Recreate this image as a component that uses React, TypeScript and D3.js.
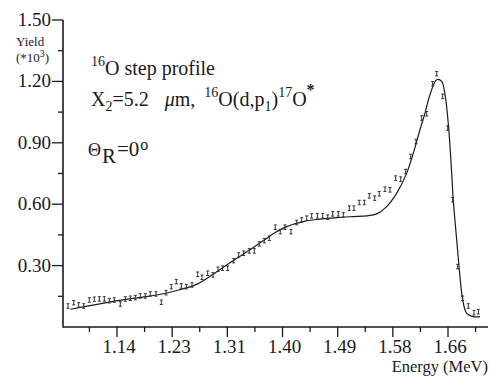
import React from "react";
import * as d3 from "d3";

// ---- data ----
const fitE = [1.0664, 1.1321, 1.211, 1.2373, 1.2635, 1.2846, 1.3056, 1.3266, 1.3477, 1.3687, 1.3896, 1.4076, 1.4338, 1.4601, 1.4865, 1.5126, 1.5338, 1.5495, 1.5653, 1.5811, 1.5969, 1.6073, 1.6178, 1.6257, 1.6336, 1.6442, 1.652, 1.6573, 1.6625, 1.6678, 1.6703, 1.6757, 1.6809, 1.6852, 1.6915, 1.7019, 1.7124];
const fitY = [0.0866, 0.1238, 0.1614, 0.181, 0.206, 0.243, 0.2872, 0.3312, 0.3733, 0.4173, 0.4613, 0.4907, 0.5151, 0.5269, 0.5347, 0.5396, 0.543, 0.5528, 0.5885, 0.654, 0.7519, 0.8497, 0.9637, 1.0454, 1.135, 1.2083, 1.2, 1.135, 0.993, 0.7519, 0.6213, 0.4256, 0.2461, 0.1321, 0.067, 0.0504, 0.0504];

const dataE = [1.0627, 1.0717, 1.0796, 1.0875, 1.0963, 1.1042, 1.1121, 1.12, 1.1279, 1.1357, 1.1452, 1.1531, 1.161, 1.1689, 1.1767, 1.1846, 1.1925, 1.2015, 1.2099, 1.2173, 1.2256, 1.2335, 1.2414, 1.2493, 1.2583, 1.2673, 1.274, 1.283, 1.2914, 1.2993, 1.3067, 1.3146, 1.324, 1.3319, 1.3398, 1.3486, 1.3565, 1.3644, 1.3723, 1.3802, 1.3896, 1.3975, 1.4049, 1.4144, 1.4234, 1.4313, 1.4392, 1.447, 1.4559, 1.4644, 1.4723, 1.4802, 1.489, 1.4969, 1.5063, 1.5137, 1.5221, 1.53, 1.5379, 1.5464, 1.5536, 1.5626, 1.5705, 1.5795, 1.5874, 1.5953, 1.6032, 1.6115, 1.6205, 1.6284, 1.6378, 1.6442, 1.6536, 1.6615, 1.6694, 1.6773, 1.6852, 1.694, 1.703, 1.7098];
const dataY = [0.1027, 0.1189, 0.1076, 0.1027, 0.1321, 0.1355, 0.137, 0.137, 0.1287, 0.1321, 0.1125, 0.137, 0.1404, 0.1433, 0.1517, 0.1517, 0.1614, 0.1614, 0.1208, 0.1678, 0.1971, 0.2216, 0.2006, 0.1971, 0.2055, 0.2578, 0.2431, 0.2627, 0.2544, 0.2823, 0.2872, 0.2872, 0.3243, 0.3522, 0.3605, 0.3718, 0.3718, 0.406, 0.4222, 0.4339, 0.4877, 0.4662, 0.4877, 0.4662, 0.5102, 0.5234, 0.5318, 0.543, 0.543, 0.543, 0.5366, 0.5528, 0.5528, 0.5479, 0.5807, 0.5807, 0.6081, 0.6081, 0.6409, 0.6296, 0.6506, 0.6736, 0.6702, 0.7274, 0.7226, 0.7597, 0.8331, 0.9065, 1.021, 1.042, 1.1888, 1.2377, 1.1266, 0.972, 0.6213, 0.295, 0.1404, 0.1027, 0.07, 0.0748];
const dataErr = 0.011;

const xTickValues = [1.14, 1.227, 1.314, 1.401, 1.488, 1.575, 1.662];
const xTickLabels = ["1.14", "1.23", "1.31", "1.40", "1.49", "1.58", "1.66"];
const yTickValues = [0.3, 0.6, 0.9, 1.2, 1.5];
const yTickLabels = ["0.30", "0.60", "0.90", "1.20", "1.50"];
const yMinorValues = [0.15, 0.45, 0.75, 1.05, 1.35];

const SERIF = "Liberation Serif, Times New Roman, DejaVu Serif, serif";

export default function App() {
  const x = d3.scaleLinear().domain([1.14, 1.662]).range([117, 448]);
  const y = d3.scaleLinear().domain([0, 1.5]).range([327, 20]);
  const ink = "#1a1a1a";

  const line = d3
    .line<number>()
    .x((_, i) => x(fitE[i]))
    .y((d) => y(d))
    .curve(d3.curveCatmullRom.alpha(0.5));

  const step = xTickValues[1] - xTickValues[0];
  const xMinor = [xTickValues[0] - step / 2, ...xTickValues.map((v) => v + step / 2)];
  const xEnd = 488;

  return (
    <svg
      width={490}
      height={376}
      fontFamily={SERIF}
      style={{ position: "absolute", left: 0, top: 0, background: "#fff" }}
    >
      {/* axes */}
      <line x1={63} x2={63} y1={y(1.5)} y2={y(0) + 0.5} stroke={ink} strokeWidth={1.6} />
      <line x1={63} x2={xEnd} y1={y(0)} y2={y(0)} stroke={ink} strokeWidth={1.4} />
      {yTickValues.map((v, i) => (
        <g key={"yt" + i}>
          <line x1={52} x2={63} y1={y(v)} y2={y(v)} stroke={ink} strokeWidth={1.3} />
          <text x={51} y={y(v) + 6} textAnchor="end" fontSize={19} fill={ink}>
            {yTickLabels[i]}
          </text>
        </g>
      ))}
      {yMinorValues.map((v, i) => (
        <line key={"ym" + i} x1={58} x2={63} y1={y(v)} y2={y(v)} stroke={ink} strokeWidth={1.3} />
      ))}
      {xTickValues.map((v, i) => (
        <g key={"xt" + i}>
          <line x1={x(v)} x2={x(v)} y1={y(0)} y2={y(0) + 10} stroke={ink} strokeWidth={1.3} />
          <text x={x(v) + 2} y={353} textAnchor="middle" fontSize={19} fill={ink}>
            {xTickLabels[i]}
          </text>
        </g>
      ))}
      {xMinor.map((v, i) => (
        <line key={"xm" + i} x1={x(v)} x2={x(v)} y1={y(0)} y2={y(0) + 5} stroke={ink} strokeWidth={1.3} />
      ))}
      <text x={488} y={372} textAnchor="end" fontSize={16.5} fill={ink}>
        Energy (MeV)
      </text>

      {/* y axis label */}
      <text x={16} y={46} fontSize={13} fill={ink}>Yield</text>
      <text x={16} y={62} fontSize={13} fill={ink}>
        (*10<tspan dy={-5} fontSize={10}>3</tspan><tspan dy={5}>)</tspan>
      </text>

      {/* annotations */}
      <text x={91} y={75} fontSize={20} fill={ink}>
        <tspan dy={-9} fontSize={14}>16</tspan>
        <tspan dy={9}>O step profile</tspan>
      </text>
      <text x={91} y={106} fontSize={20} fill={ink}>
        X<tspan dy={5} fontSize={14}>2</tspan>
        <tspan dy={-5}>=5.2</tspan>
        <tspan fontStyle="italic" dx={16}>μ</tspan>
        <tspan>m,</tspan>
        <tspan dy={-9} dx={9} fontSize={14}>16</tspan>
        <tspan dy={9}>O(d,p</tspan>
        <tspan dy={5} fontSize={14}>1</tspan>
        <tspan dy={-5}>)</tspan>
        <tspan dy={-9} fontSize={14}>17</tspan>
        <tspan dy={9}>O</tspan>
        <tspan dy={-11} fontSize={16} fontWeight="bold">*</tspan>
      </text>
      <text x={88} y={156} fontSize={21} fill={ink}>
        <tspan fontSize={18}>Θ</tspan>
        <tspan dy={7} dx={1}>R</tspan>
        <tspan dy={-7} dx={1}>=0</tspan>
        <tspan dy={-6} dx={1} fontSize={16}>o</tspan>
      </text>

      {/* fit curve */}
      <path d={line(fitY) || ""} fill="none" stroke={ink} strokeWidth={1.2} />

      {/* data points with error bars */}
      {dataE.map((e, i) => {
        const cx = x(e);
        const y1 = y(dataY[i] + dataErr);
        const y2 = y(dataY[i] - dataErr);
        return (
          <g key={"d" + i} stroke="#333" strokeWidth={1}>
            <line x1={cx} x2={cx} y1={y1} y2={y2} />
            <line x1={cx - 1.5} x2={cx + 1.5} y1={y1} y2={y1} />
            <line x1={cx - 1.5} x2={cx + 1.5} y1={y2} y2={y2} />
          </g>
        );
      })}
    </svg>
  );
}
